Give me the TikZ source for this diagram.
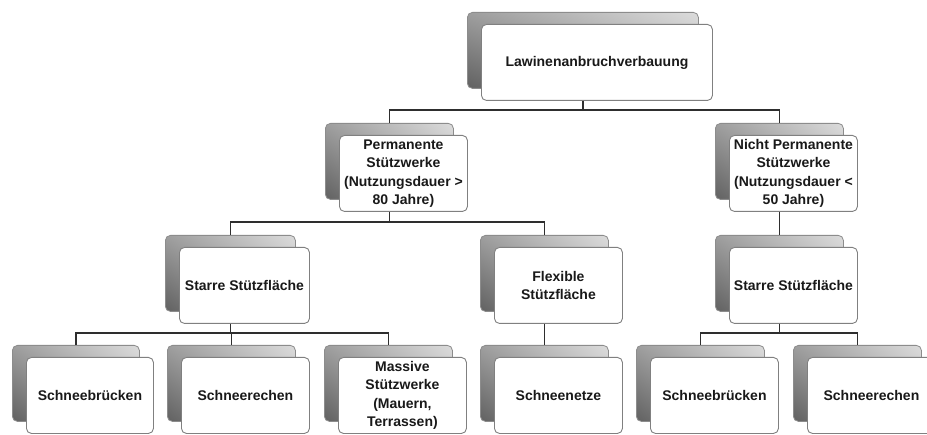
\documentclass[tikz,border=0pt]{standalone}
\usepackage{fontspec}
\setmainfont{Liberation Sans}
\usetikzlibrary{shadings}
\begin{document}
\begin{tikzpicture}[x=1bp,y=-1bp,
  backbox/.style={draw=black!45, line width=0.8bp, rounded corners=5bp,
    upper left=black!38, upper right=black!14, lower left=black!62, lower right=black!30,
    minimum height=76bp, anchor=north west, inner sep=0pt},
  frontbox/.style={draw=black!50, line width=0.9bp, fill=white, rounded corners=5bp,
    minimum height=76bp, anchor=north west, inner sep=0pt, align=center,
    text=black!90, font=\fontsize{14bp}{18.5bp}\selectfont\bfseries},
  link/.style={draw=black!82, line width=1.8bp}]
\useasboundingbox (0,0) rectangle (927,435);
\clip (0,0) rectangle (927,435);
\fill[white] (0,0) rectangle (927,435);
\newcommand\unitbox[5]{%
  \node[backbox, minimum width=#4] (b#1) at (#2,#3) {};
  \node[frontbox, minimum width=#4] (f#1) at (#2+14,#3+12) {#5};}
\unitbox{0}{467}{12}{231bp}{Lawinenanbruchverbauung}
\unitbox{1}{325}{123}{128bp}{Permanente\\Stützwerke\\(Nutzungsdauer >\\80 Jahre)}
\unitbox{2}{715}{123}{128bp}{Nicht Permanente\\Stützwerke\\(Nutzungsdauer <\\50 Jahre)}
\unitbox{3}{165}{235}{130bp}{Starre Stützfläche}
\unitbox{4}{480}{235}{128bp}{Flexible\\Stützfläche}
\unitbox{5}{715}{235}{128bp}{Starre Stützfläche}
\unitbox{6}{12}{345}{127bp}{Schneebrücken}
\unitbox{7}{167}{345}{128bp}{Schneerechen}
\unitbox{8}{324}{345}{128bp}{Massive\\Stützwerke\\(Mauern,\\Terrassen)}
\unitbox{9}{480}{345}{128bp}{Schneenetze}
\unitbox{10}{636}{345}{128bp}{Schneebrücken}
\unitbox{11}{793}{345}{128bp}{Schneerechen}
\coordinate (y1) at (0,110);
\coordinate (y2) at (0,222);
\coordinate (y3) at (0,333);
% level 1 -> 2
\draw[link] (b0.center |- f0.south) -- (b0.center |- y1);
\draw[link] (b1.north) |- (y1 -| b2.center) -- (b2.north);
% level 2 -> 3
\draw[link] (b1.center |- f1.south) -- (b1.center |- y2);
\draw[link] (b3.north) |- (y2 -| b4.center) -- (b4.north);
\draw[link] (b2.center |- f2.south) -- (b5.north);
% level 3 -> 4
\draw[link] (b3.center |- f3.south) -- (b3.center |- y3);
\draw[link] (b6.north) |- (y3 -| b8.center) -- (b8.north);
\draw[link] (b7.north) -- (b7.center |- y3);
\draw[link] (b4.center |- f4.south) -- (b9.north);
\draw[link] (b5.center |- f5.south) -- (b5.center |- y3);
\draw[link] (b10.north) |- (y3 -| b11.center) -- (b11.north);
\end{tikzpicture}
\end{document}
